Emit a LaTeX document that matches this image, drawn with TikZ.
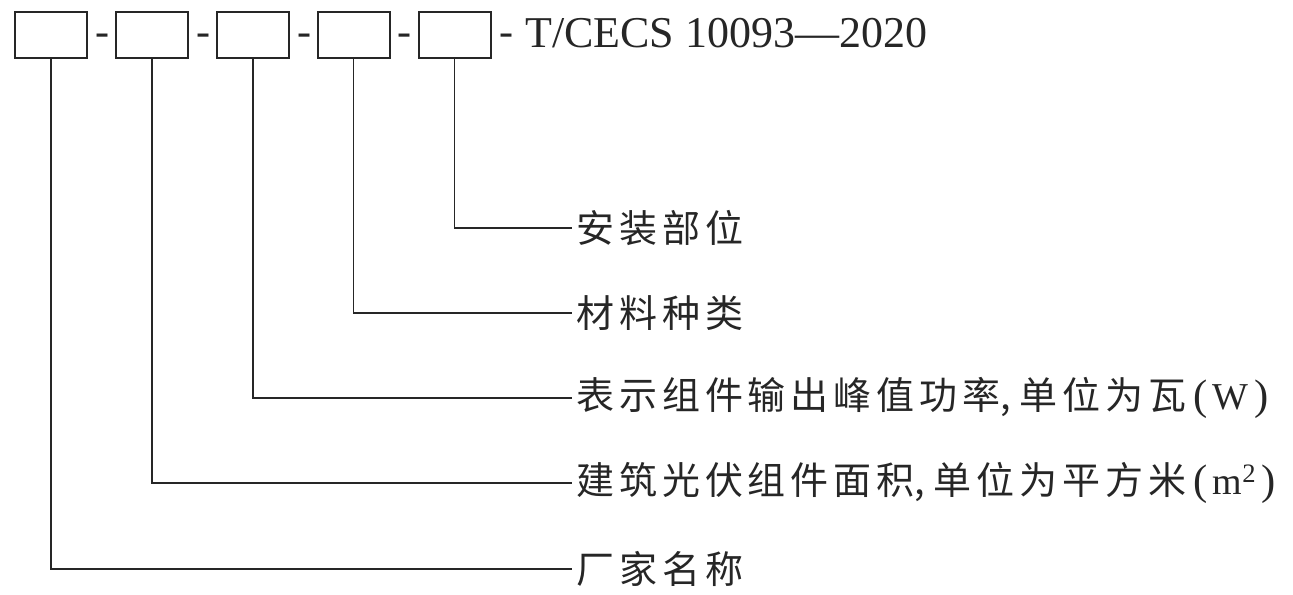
\documentclass[tikz,border=0pt]{standalone}
\usepackage{fontspec}
\setmainfont{Liberation Serif}
\newfontfamily\cjk[LetterSpace=13]{Noto Sans CJK SC}
\definecolor{ink}{HTML}{262626}
\newcommand{\unitpar}[1]{{\rmfamily\kern5pt{\fontsize{32}{34}\selectfont(}\kern4pt#1\kern4pt{\fontsize{32}{34}\selectfont)}}}
\begin{document}
\begin{tikzpicture}[x=0.75pt,y=-0.75pt,
  codebox/.style={draw=ink,line width=1.5pt,minimum width=54pt,minimum height=34.5pt,inner sep=0pt},
  sep/.style={inner sep=0pt,text=ink,font=\fontsize{31.5}{33}\selectfont},
  lbl/.style={anchor=west,inner ysep=0pt,inner xsep=3pt,text=ink,font=\cjk\fontsize{28.5}{30}\selectfont},
  lead/.style={draw=ink,line width=1.1pt}]
\useasboundingbox (0,0) rectangle (1293,594);
\node[codebox] (b1) at (51,35) {};
\node[codebox] (b2) at (152,35) {};
\node[codebox] (b3) at (253,35) {};
\node[codebox] (b4) at (353.5,35) {};
\node[codebox] (b5) at (454.5,35) {};
\node[sep] (d1) at (102,40) {-};
\node[sep] (d2) at (203,40) {-};
\node[sep] (d3) at (304,40) {-};
\node[sep] (d4) at (404,40) {-};
\node[sep] (d5) at (506,40) {-};
\node[sep,anchor=west,font=\fontsize{33}{35}\selectfont] (std) at (525,33) {T/CECS 10093—2020};
\node[lbl] (l5) at (572,228) {安装部位};
\node[lbl] (l4) at (572,313) {材料种类};
\node[lbl] (l3) at (572,398) {表示组件输出峰值功率{\addfontfeature{LetterSpace=0}, }单位为瓦\unitpar{W}};
\node[lbl] (l2) at (572,483) {建筑光伏组件面积{\addfontfeature{LetterSpace=0}, }单位为平方米\unitpar{m\textsuperscript{2}}};
\node[lbl] (l1) at (572,569) {厂家名称};
\draw[lead] (b5.south) |- (l5.west);
\draw[lead] (b4.south) |- (l4.west);
\draw[lead] (b3.south) |- (l3.west);
\draw[lead] (b2.south) |- (l2.west);
\draw[lead] (b1.south) |- (l1.west);
\end{tikzpicture}
\end{document}
